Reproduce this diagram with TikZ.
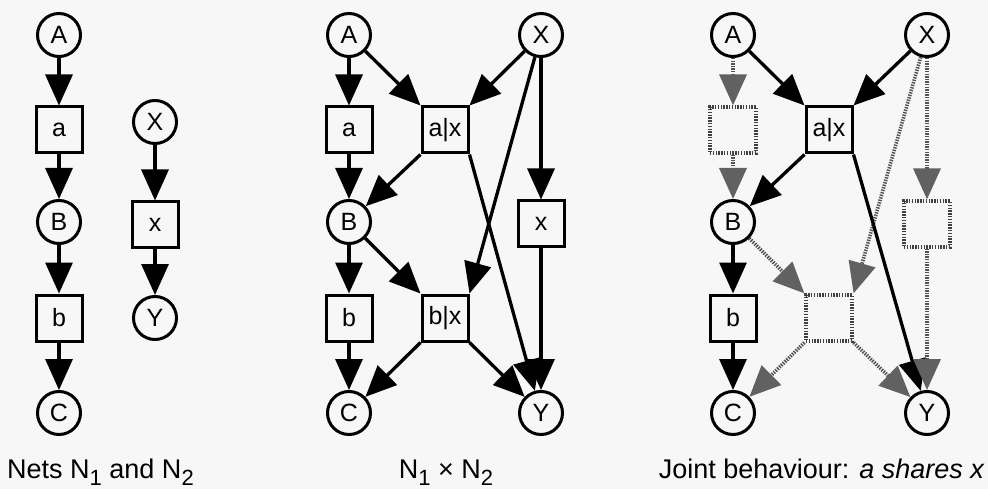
\documentclass[tikz,border=0pt]{standalone}
\usepackage{fontspec}
\setmainfont{Liberation Sans}
\usetikzlibrary{arrows.meta}
\definecolor{bg}{RGB}{246,247,246}
\newcommand\lowsub[1]{\raisebox{-7pt}{\fontsize{22}{22}\selectfont #1}}
\begin{document}
\begin{tikzpicture}[x=1pt,y=-1pt,
  place/.style={circle,draw,line width=3pt,minimum size=43pt,inner sep=0pt,font=\fontsize{25}{25}\selectfont},
  trans/.style={rectangle,draw,line width=3pt,minimum size=46pt,inner sep=0pt,font=\fontsize{25}{25}\selectfont},
  ghostbox/.style={rectangle,draw=black!75,line width=3.2pt,dash pattern=on 1.4pt off 1.4pt,minimum size=46pt,inner sep=0pt},
  arc/.style={line width=3.3pt,-{Triangle[length=31pt,width=27pt]}},
  ghost/.style={line width=3.6pt,draw=black!68,dash pattern=on 1.4pt off 1.2pt,-{Triangle[length=31pt,width=27pt,color=black!62]}},
  captext/.style={font=\fontsize{27}{27}\selectfont,inner sep=0pt}
]
\fill[bg] (0,0) rectangle (988,489);
\useasboundingbox (0,0) rectangle (988,489);

% ---------- left panel ----------
\node[place] (LA) at (59,35) {A};
\node[trans] (La) at (59,130) {a};
\node[place] (LB) at (59,222) {B};
\node[trans] (Lb) at (59,318) {b};
\node[place] (LC) at (59,413) {C};
\node[place] (LX) at (155,122) {X};
\node[trans] (Lx) at (155,225) {x};
\node[place] (LY) at (155,318) {Y};
\draw[arc] (LA) -- (La);
\draw[arc] (La) -- (LB);
\draw[arc] (LB) -- (Lb);
\draw[arc] (Lb) -- (LC);
\draw[arc] (LX) -- (Lx);
\draw[arc] (Lx) -- (LY);
\node[captext,anchor=base west] (Lcap) at (7,478) {Nets N\lowsub{1} and N\lowsub{2}};

% ---------- middle panel ----------
\node[place] (MA) at (349,35) {A};
\node[trans] (Ma) at (349,130) {a};
\node[trans] (Max) at (445,130) {a|x};
\node[place] (MX) at (541,35) {X};
\node[place] (MB) at (349,222) {B};
\node[trans] (Mx) at (541,224) {x};
\node[trans] (Mb) at (349,318) {b};
\node[trans] (Mbx) at (445,318) {b|x};
\node[place] (MC) at (349,413) {C};
\node[place] (MY) at (541,413) {Y};
\draw[arc] (MA) -- (Ma);
\draw[arc] (MA) -- (Max.north west);
\draw[arc] (MX) -- (Max.north east);
\draw[arc] (MX) -- (Mbx.north east);
\draw[arc] (MX) -- (Mx);
\draw[arc] (Ma) -- (MB);
\draw[arc] (Max.south west) -- (MB);
\draw[arc] (Max.south east) -- (MY);
\draw[arc] (MB) -- (Mb);
\draw[arc] (MB) -- (Mbx.north west);
\draw[arc] (Mb) -- (MC);
\draw[arc] (Mbx.south west) -- (MC);
\draw[arc] (Mbx.south east) -- (MY);
\draw[arc] (Mx) -- (MY);
\node[captext,anchor=base] (Mcap) at (446,478) {N\lowsub{1} × N\lowsub{2}};

% ---------- right panel ----------
\node[place] (RA) at (733,35) {A};
\node[ghostbox] (Ra) at (733,130) {};
\node[trans] (Rax) at (829,130) {a|x};
\node[place] (RX) at (927,35) {X};
\node[place] (RB) at (733,222) {B};
\node[ghostbox] (Rx) at (927,224) {};
\node[trans] (Rb) at (733,318) {b};
\node[ghostbox] (Rbx) at (829,318) {};
\node[place] (RC) at (733,413) {C};
\node[place] (RY) at (927,413) {Y};
\draw[ghost] (RA) -- (Ra);
\draw[arc] (RA) -- (Rax.north west);
\draw[arc] (RX) -- (Rax.north east);
\draw[ghost] (RX) -- (Rbx.north east);
\draw[ghost] (RX) -- (Rx);
\draw[ghost] (Ra) -- (RB);
\draw[arc] (Rax.south west) -- (RB);
\draw[arc] (Rax.south east) -- (RY);
\draw[arc] (RB) -- (Rb);
\draw[ghost] (RB) -- (Rbx.north west);
\draw[arc] (Rb) -- (RC);
\draw[ghost] (Rbx.south west) -- (RC);
\draw[ghost] (Rbx.south east) -- (RY);
\draw[ghost] (Rx) -- (RY);
\node[captext,anchor=base east] (Rcap) at (985,478) {Joint behaviour: \textit{a shares x}};
\end{tikzpicture}
\end{document}
